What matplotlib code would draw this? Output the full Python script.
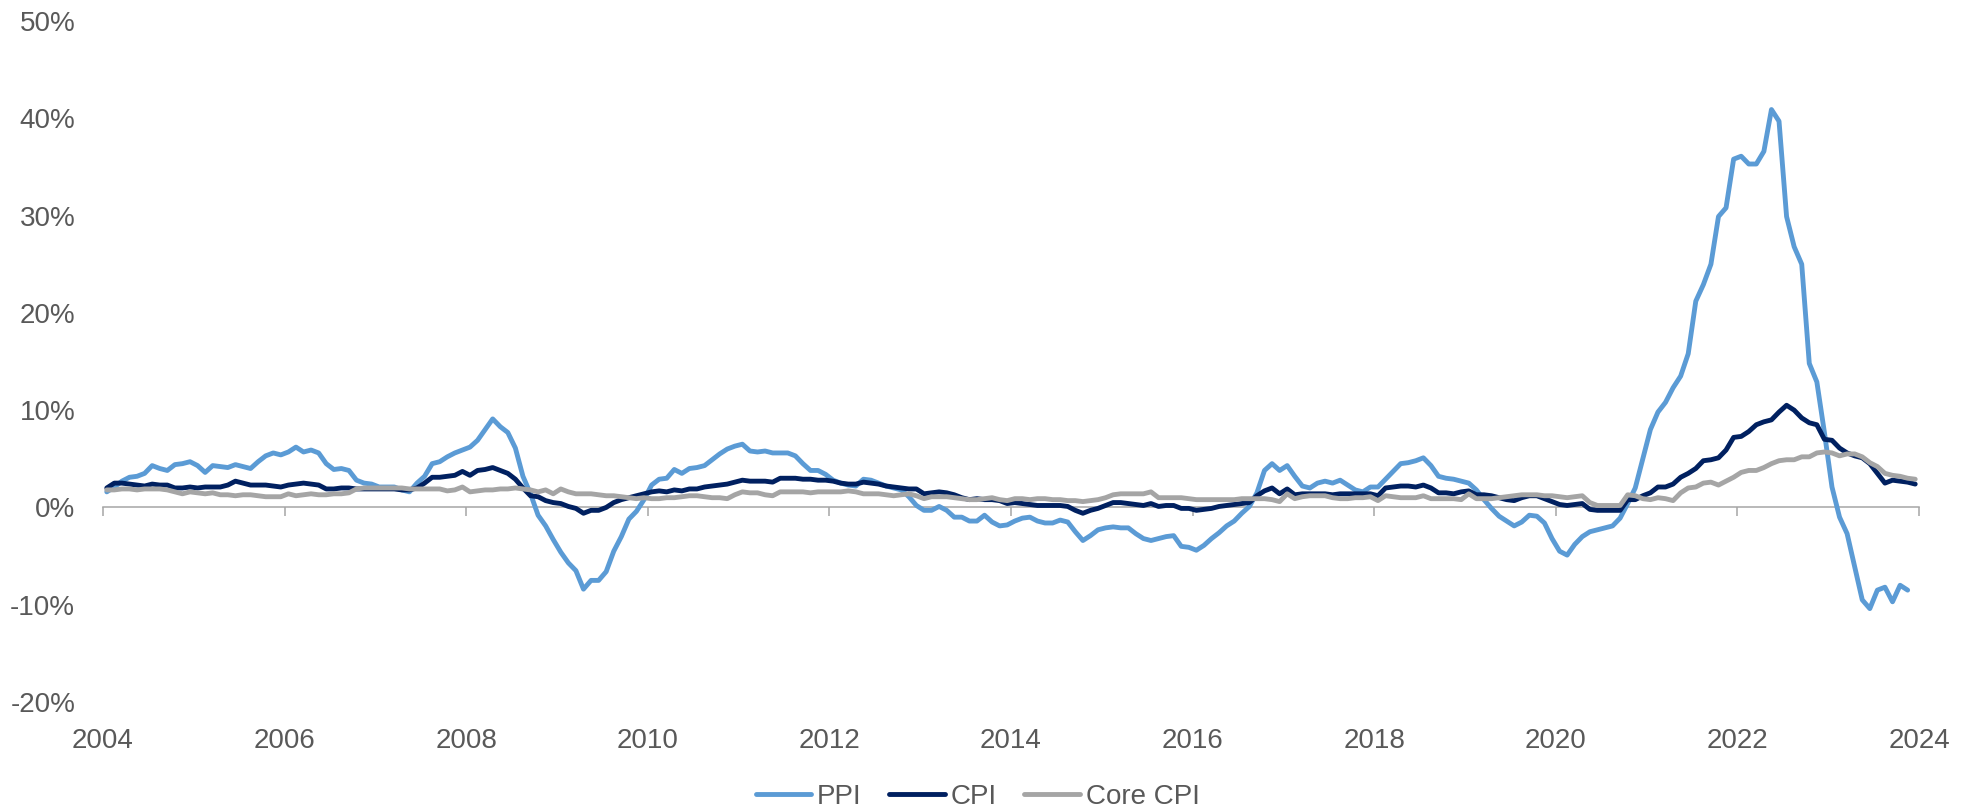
import numpy as np
import matplotlib
matplotlib.use("Agg")
import matplotlib.pyplot as plt

START_YEAR = 2004

ppi = [
    1.6, 2.1, 2.7, 3.1, 3.2, 3.5, 4.3, 4.0, 3.8, 4.4, 4.5, 4.7,
    4.3, 3.6, 4.3, 4.2, 4.1, 4.4, 4.2, 4.0, 4.7, 5.3, 5.6, 5.4,
    5.7, 6.2, 5.7, 5.9, 5.6, 4.5, 3.9, 4.0, 3.8, 2.8, 2.5, 2.4,
    2.1, 2.1, 2.1, 1.8, 1.6, 2.5, 3.2, 4.5, 4.7, 5.2, 5.6, 5.9,
    6.2, 6.9, 8.0, 9.1, 8.3, 7.7, 6.1, 3.2, 1.4, -0.8, -1.9, -3.3,
    -4.6, -5.7, -6.5, -8.4, -7.5, -7.5, -6.6, -4.5, -3.0, -1.2, -0.4, 0.8,
    2.3, 2.9, 3.0, 3.9, 3.5, 4.0, 4.1, 4.3, 4.9, 5.5, 6.0, 6.3,
    6.5, 5.8, 5.7, 5.8, 5.6, 5.6, 5.6, 5.3, 4.5, 3.8, 3.8, 3.4,
    2.8, 2.5, 2.3, 2.2, 2.9, 2.8, 2.5, 2.2, 2.0, 1.8, 1.1, 0.2,
    -0.3, -0.3, 0.1, -0.3, -1.0, -1.0, -1.4, -1.4, -0.8, -1.5, -1.9, -1.8,
    -1.4, -1.1, -1.0, -1.4, -1.6, -1.6, -1.3, -1.5, -2.5, -3.4, -2.9, -2.3,
    -2.1, -2.0, -2.1, -2.1, -2.7, -3.2, -3.4, -3.2, -3.0, -2.9, -4.0, -4.1,
    -4.4, -3.9, -3.2, -2.6, -1.9, -1.4, -0.6, 0.1, 1.5, 3.8, 4.5, 3.8,
    4.3, 3.2, 2.2, 2.0, 2.5, 2.7, 2.5, 2.8, 2.3, 1.8, 1.6, 2.1,
    2.1, 2.9, 3.7, 4.5, 4.6, 4.8, 5.1, 4.3, 3.2, 3.0, 2.9, 2.7,
    2.5, 1.8, 0.8, -0.1, -0.9, -1.4, -1.9, -1.5, -0.8, -0.9, -1.6, -3.2,
    -4.5, -4.9, -3.8, -3.0, -2.5, -2.3, -2.1, -1.9, -1.1, 0.4, 2.0, 5.0,
    8.0, 9.8, 10.8, 12.3, 13.5, 15.8, 21.2, 22.9, 25.0, 29.9, 30.8, 35.8,
    36.1, 35.3, 35.3, 36.6, 40.9, 39.7, 29.9, 26.8, 25.0, 14.8, 12.9, 7.7,
    2.1, -1.0, -2.7, -6.1, -9.5, -10.4, -8.5, -8.2, -9.7, -8.0, -8.5,
]

cpi = [
    2.0, 2.5, 2.5, 2.4, 2.3, 2.2, 2.4, 2.3, 2.3, 2.0, 2.0, 2.1,
    2.0, 2.1, 2.1, 2.1, 2.3, 2.7, 2.5, 2.3, 2.3, 2.3, 2.2, 2.1,
    2.3, 2.4, 2.5, 2.4, 2.3, 1.9, 1.9, 2.0, 2.0, 1.9, 1.9, 1.9,
    1.9, 1.9, 1.9, 1.8, 1.8, 2.0, 2.5, 3.1, 3.1, 3.2, 3.3, 3.7,
    3.3, 3.8, 3.9, 4.1, 3.8, 3.5, 2.9, 2.0, 1.2, 1.1, 0.7, 0.5,
    0.4, 0.1, -0.1, -0.6, -0.3, -0.3, 0.0, 0.5, 0.8, 1.0, 1.2, 1.4,
    1.6, 1.7, 1.6, 1.8, 1.7, 1.9, 1.9, 2.1, 2.2, 2.3, 2.4, 2.6,
    2.8, 2.7, 2.7, 2.7, 2.6, 3.0, 3.0, 3.0, 2.9, 2.9, 2.8, 2.8,
    2.7, 2.5, 2.4, 2.4, 2.6, 2.5, 2.4, 2.2, 2.1, 2.0, 1.9, 1.9,
    1.4, 1.5, 1.6, 1.5, 1.3, 1.0, 0.8, 0.9, 0.8, 0.8, 0.7, 0.4,
    0.5, 0.4, 0.3, 0.2, 0.2, 0.2, 0.2, 0.1, -0.3, -0.6, -0.3, -0.1,
    0.2, 0.5, 0.5, 0.4, 0.3, 0.2, 0.4, 0.1, 0.2, 0.2, -0.1, -0.1,
    -0.3, -0.2, -0.1, 0.1, 0.2, 0.3, 0.4, 0.5, 1.2, 1.7, 2.0, 1.4,
    1.9, 1.3, 1.4, 1.4, 1.4, 1.4, 1.3, 1.4, 1.4, 1.4, 1.4, 1.4,
    1.2, 2.0, 2.1, 2.2, 2.2, 2.1, 2.3, 2.0, 1.5, 1.5, 1.4, 1.6,
    1.7, 1.3, 1.3, 1.2, 1.0, 0.8, 0.7, 1.0, 1.2, 1.2, 0.9, 0.6,
    0.3, 0.2, 0.3, 0.4, -0.2, -0.3, -0.3, -0.3, -0.3, 0.8, 0.8, 1.2,
    1.5, 2.1, 2.1, 2.4, 3.1, 3.5, 4.0, 4.8, 4.9, 5.1, 5.9, 7.2,
    7.3, 7.8, 8.5, 8.8, 9.0, 9.8, 10.5, 10.0, 9.2, 8.7, 8.5, 7.0,
    6.9, 6.1, 5.6, 5.3, 5.1, 4.5, 3.5, 2.5, 2.8, 2.7, 2.6, 2.4,
]

core_cpi = [
    1.8, 1.8, 1.9, 1.9, 1.8, 1.9, 1.9, 1.9, 1.8, 1.6, 1.4, 1.6,
    1.5, 1.4, 1.5, 1.3, 1.3, 1.2, 1.3, 1.3, 1.2, 1.1, 1.1, 1.1,
    1.4, 1.2, 1.3, 1.4, 1.3, 1.3, 1.4, 1.4, 1.5, 1.9, 2.0, 2.0,
    2.0, 2.0, 2.0, 2.0, 1.9, 1.9, 1.9, 1.9, 1.9, 1.7, 1.8, 2.1,
    1.6, 1.7, 1.8, 1.8, 1.9, 1.9, 2.0, 1.9, 1.8, 1.6, 1.8, 1.4,
    1.9, 1.6, 1.4, 1.4, 1.4, 1.3, 1.2, 1.2, 1.1, 1.0, 0.9, 1.0,
    0.9, 0.9, 1.0, 1.0, 1.1, 1.2, 1.2, 1.1, 1.0, 1.0, 0.9, 1.3,
    1.6, 1.5, 1.5, 1.3, 1.2, 1.6, 1.6, 1.6, 1.6, 1.5, 1.6, 1.6,
    1.6, 1.6, 1.7, 1.6, 1.4, 1.4, 1.4, 1.3, 1.2, 1.3, 1.4, 1.2,
    0.9, 1.1, 1.1, 1.1, 1.0, 0.9, 0.8, 0.8, 0.9, 1.0, 0.8, 0.7,
    0.9, 0.9, 0.8, 0.9, 0.9, 0.8, 0.8, 0.7, 0.7, 0.6, 0.7, 0.8,
    1.0, 1.3, 1.4, 1.4, 1.4, 1.4, 1.6, 1.0, 1.0, 1.0, 1.0, 0.9,
    0.8, 0.8, 0.8, 0.8, 0.8, 0.8, 0.9, 0.9, 0.9, 0.9, 0.8, 0.6,
    1.4, 0.9, 1.1, 1.2, 1.2, 1.2, 1.0, 0.9, 0.9, 1.0, 1.0, 1.1,
    0.7, 1.2, 1.1, 1.0, 1.0, 1.0, 1.2, 0.9, 0.9, 0.9, 0.9, 0.8,
    1.4, 0.9, 0.9, 0.9, 1.0, 1.1, 1.2, 1.3, 1.3, 1.3, 1.2, 1.2,
    1.1, 1.0, 1.1, 1.2, 0.5, 0.2, 0.2, 0.2, 0.2, 1.3, 1.2, 0.9,
    0.8, 1.0, 0.9, 0.7, 1.5, 2.0, 2.1, 2.5, 2.6, 2.3, 2.7, 3.1,
    3.6, 3.8, 3.8, 4.1, 4.5, 4.8, 4.9, 4.9, 5.2, 5.2, 5.6, 5.7,
    5.6, 5.3, 5.5, 5.5, 5.2, 4.6, 4.2, 3.5, 3.3, 3.2, 3.0, 2.9,
]

series_names = ["PPI", "CPI", "Core CPI"]
series_colors = ["#5B9BD5", "#002060", "#A5A5A5"]
year_ticks = list(range(2004, 2025, 2))
y_ticks = list(range(-20, 51, 10))
Y_MIN, Y_MAX = -20, 50

TEXT_COLOR = "#595959"
AXIS_COLOR = "#A6A6A6"
FONT_SIZE = 20

plt.rcParams["font.family"] = ["Liberation Sans", "DejaVu Sans"]

fig = plt.figure(figsize=(19.75, 8.09), dpi=100)
ax = fig.add_axes([103 / 1975, 1 - 702 / 809, (1919 - 103) / 1975, (702 - 21) / 809])

for name, vals, col in zip(series_names, [ppi, cpi, core_cpi], series_colors):
    x = START_YEAR + (np.arange(len(vals)) + 0.5) / 12.0
    ax.plot(x, vals, color=col, lw=3.5, label=name,
            solid_joinstyle="round", solid_capstyle="round")

ax.set_xlim(2004, 2024)
ax.set_ylim(Y_MIN, Y_MAX)
for s in ax.spines.values():
    s.set_visible(False)

ax.set_xticks(year_ticks)
ax.set_xticklabels([str(y) for y in year_ticks])
ax.set_yticks(y_ticks)
ax.set_yticklabels([f"{v}%" for v in y_ticks])
ax.tick_params(axis="both", length=0, labelsize=FONT_SIZE, colors=TEXT_COLOR)
ax.tick_params(axis="x", pad=18.5)
ax.tick_params(axis="y", pad=20)

# zero axis line with tick marks
zero_frac = (0 - Y_MIN) / (Y_MAX - Y_MIN)
sec = ax.secondary_xaxis(zero_frac)
sec.set_xticks(year_ticks)
sec.tick_params(axis="x", direction="out", length=6.5, width=1.1,
                color=AXIS_COLOR, labelbottom=False)
sec.spines["bottom"].set_color(AXIS_COLOR)
sec.spines["bottom"].set_linewidth(1.1)
for k in ["top", "left", "right"]:
    if k in sec.spines:
        sec.spines[k].set_visible(False)

handles, labels = ax.get_legend_handles_labels()
fig.legend(handles, labels, loc="center", bbox_to_anchor=(0.495, 12 / 809),
           ncol=3, frameon=False, fontsize=FONT_SIZE, labelcolor=TEXT_COLOR,
           handlelength=2.0, handletextpad=0.2, columnspacing=1.0,
           borderpad=0, borderaxespad=0)

fig.savefig("out.png", dpi=100)
